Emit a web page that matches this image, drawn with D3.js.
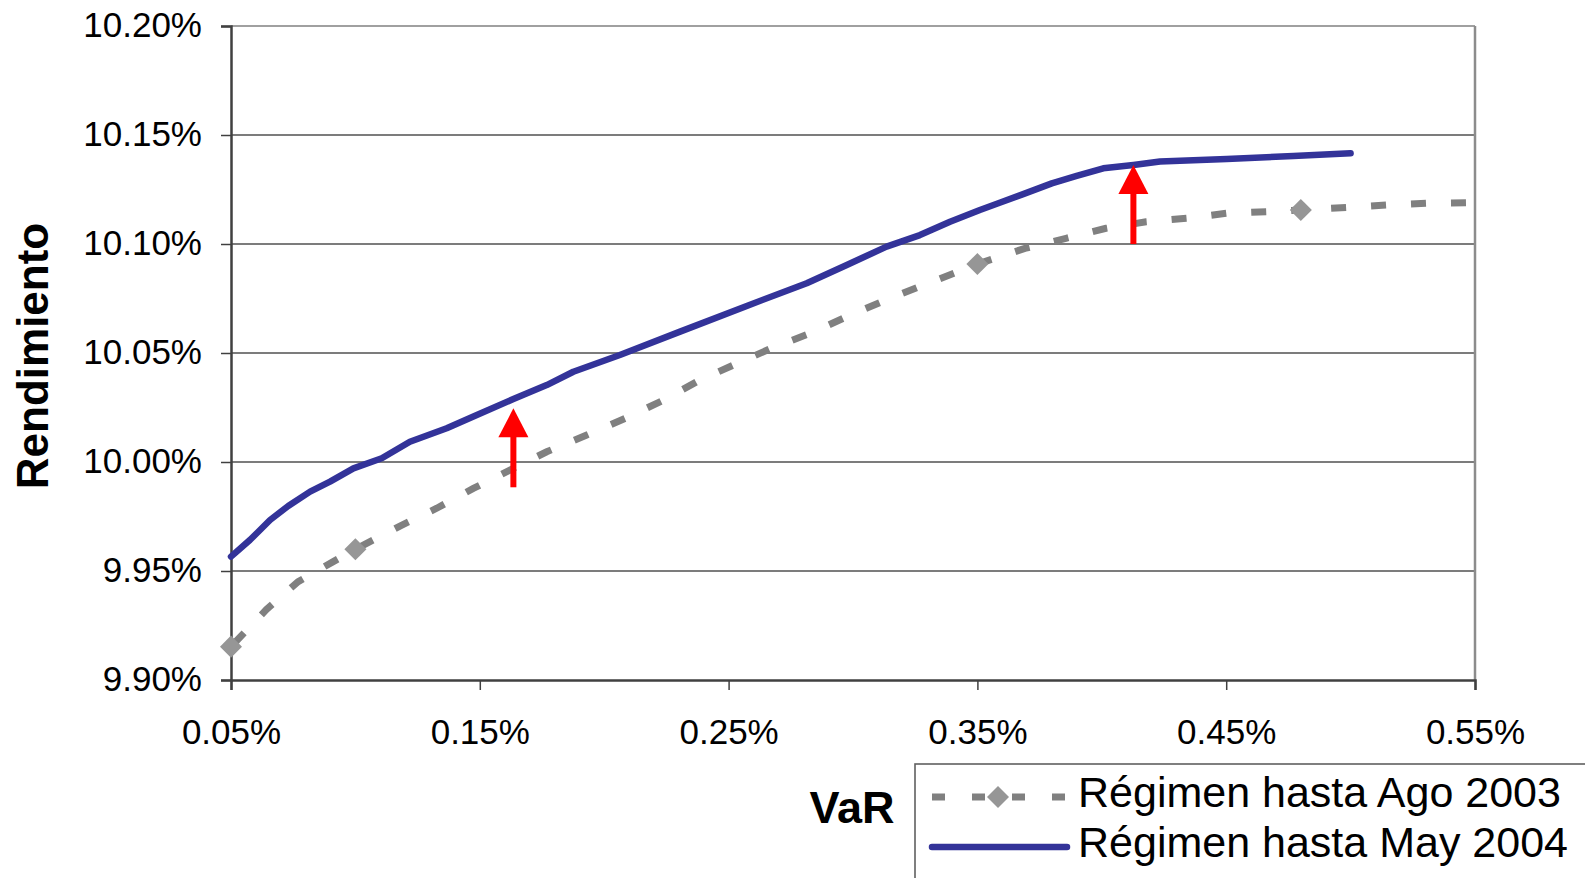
<!DOCTYPE html>
<html>
<head>
<meta charset="utf-8">
<script src="https://cdn.jsdelivr.net/npm/d3@7"></script>
<style>
	body { margin: 0; background: #fff; }
	text { font-family: "Liberation Sans", Arial, sans-serif; fill: #000; }
</style>
</head>
<body>
<div id="chart"></div>
<script>

//=================== DATA ====================================

// Regimen hasta Ago 2003 (dashed grey)
var varAgo2003  = [0.05, 0.0643, 0.077, 0.0911, 0.10, 0.1179, 0.1327, 0.1474, 0.1621, 0.1769, 0.193,
	0.2084, 0.2231, 0.2378, 0.2526, 0.2676, 0.2834, 0.2981, 0.3142, 0.3296, 0.35, 0.3691, 0.3856,
	0.4017, 0.4178, 0.4341, 0.4502, 0.4663, 0.48, 0.4991, 0.5149, 0.531, 0.55];
var rendAgo2003 = [9.9153, 9.9324, 9.9451, 9.9543, 9.96, 9.9706, 9.9788, 9.9879, 9.9963, 10.0047, 10.0124,
	10.02, 10.028, 10.0372, 10.0448, 10.0524, 10.0593, 10.067, 10.0748, 10.0817, 10.0908, 10.098, 10.1026,
	10.1072, 10.1102, 10.1118, 10.1141, 10.1148, 10.1156, 10.1168, 10.1179, 10.1187, 10.119];

// only some points of the grey series carry a diamond marker
var markerVar  = [0.05, 0.10, 0.35, 0.48];
var markerRend = [9.9153, 9.96, 10.0908, 10.1156];

// Regimen hasta May 2004 (solid blue)
var varMay2004  = [0.05, 0.0576, 0.0657, 0.073, 0.0818, 0.0898, 0.0992, 0.1106, 0.1219, 0.1367, 0.1488,
	0.1635, 0.1769, 0.1876, 0.2063, 0.2305, 0.2573, 0.2814, 0.2975, 0.3135, 0.3269, 0.339, 0.351,
	0.3584, 0.3684, 0.3799, 0.3899, 0.4006, 0.4127, 0.4234, 0.4502, 0.477, 0.50];
var rendMay2004 = [9.9566, 9.9642, 9.9734, 9.9798, 9.9864, 9.991, 9.9971, 10.0017, 10.0093, 10.0155, 10.0216,
	10.0289, 10.0353, 10.0414, 10.0491, 10.0598, 10.0716, 10.082, 10.0904, 10.0988, 10.1041, 10.1102, 10.1156,
	10.1187, 10.1229, 10.1278, 10.1312, 10.1347, 10.1362, 10.1378, 10.139, 10.1404, 10.1416];

// red arrows (shift between the two frontiers)
var arrowVar  = [0.1635, 0.4127];
var arrowFrom = [9.9884, 10.10];
var arrowTo   = [10.0246, 10.1362];

var xTicks = [0.05, 0.15, 0.25, 0.35, 0.45, 0.55];
var yTicks = [9.90, 9.95, 10.00, 10.05, 10.10, 10.15, 10.20];

var seriesNames = ["Régimen hasta Ago 2003", "Régimen hasta May 2004"];
var xTitle = "VaR";
var yTitle = "Rendimiento";


//=================== SETUP ====================================

var width = 1585, height = 878;
var plot = {left: 231, right: 1475, top: 26, bottom: 680};

var svg = d3.select("#chart").append("svg")
	.attr("width", width)
	.attr("height", height);

var x = d3.scaleLinear().domain([0.05, 0.55]).range([plot.left, plot.right]);
var y = d3.scaleLinear().domain([9.90, 10.20]).range([plot.bottom, plot.top]);

var pct = function(d) { return d.toFixed(2) + "%"; };

//gridlines
svg.append("g")
	.selectAll("line")
	.data(yTicks.slice(1))
	.enter().append("line")
	.attr("x1", plot.left).attr("x2", plot.right)
	.attr("y1", function(d) { return y(d); })
	.attr("y2", function(d) { return y(d); })
	.attr("stroke", function(d, i) { return i == yTicks.length - 2 ? "#808080" : "#505050"; })
	.attr("stroke-width", 1.6);

//right border of plot area
svg.append("line")
	.attr("x1", plot.right).attr("x2", plot.right)
	.attr("y1", plot.top).attr("y2", plot.bottom)
	.attr("stroke", "#8c8c8c").attr("stroke-width", 2.5);

//y axis
var yAxis = d3.axisLeft(y).tickValues(yTicks).tickFormat(pct).tickSize(10).tickPadding(19);
var gy = svg.append("g")
	.attr("transform", "translate(" + plot.left + ",0)")
	.call(yAxis);
gy.select(".domain").attr("stroke", "#404040").attr("stroke-width", 2.5);
gy.selectAll(".tick line").attr("stroke", "#404040").attr("stroke-width", 1.5);
gy.selectAll(".tick text")
	.attr("font-size", 35)
	.attr("dy", "0.3em")
	.style("font-family", "'Liberation Sans', Arial, sans-serif");

//x axis
var xAxis = d3.axisBottom(x).tickValues(xTicks).tickFormat(pct).tickSize(10).tickPadding(0);
var gx = svg.append("g")
	.attr("transform", "translate(0," + plot.bottom + ")")
	.call(xAxis);
gx.select(".domain").attr("stroke", "#404040").attr("stroke-width", 2.5);
gx.selectAll(".tick line").attr("stroke", "#404040").attr("stroke-width", 1.5);
gx.selectAll(".tick text")
	.attr("font-size", 35)
	.attr("y", 64)
	.attr("dy", 0)
	.style("font-family", "'Liberation Sans', Arial, sans-serif");

//axis titles
svg.append("text")
	.attr("transform", "translate(48,356) rotate(-90)")
	.attr("text-anchor", "middle")
	.attr("font-size", 44)
	.attr("font-weight", "bold")
	.text(yTitle);

svg.append("text")
	.attr("x", 852)
	.attr("y", 823)
	.attr("text-anchor", "middle")
	.attr("font-size", 45)
	.attr("font-weight", "bold")
	.text(xTitle);


//=================== SERIES ====================================

var ago = d3.zip(varAgo2003, rendAgo2003);
var may = d3.zip(varMay2004, rendMay2004);
var line = d3.line()
	.x(function(d) { return x(d[0]); })
	.y(function(d) { return y(d[1]); });

svg.append("path")
	.datum(ago)
	.attr("d", line)
	.attr("fill", "none")
	.attr("stroke", "#808080")
	.attr("stroke-width", 7)
	.attr("stroke-dasharray", "15,25")
	.attr("stroke-dashoffset", -4);

var diamond = d3.symbol().type(d3.symbolDiamond2).size(310);

svg.append("g")
	.selectAll("path")
	.data(d3.zip(markerVar, markerRend))
	.enter().append("path")
	.attr("d", diamond)
	.attr("transform", function(d) { return "translate(" + x(d[0]) + "," + y(d[1]) + ")"; })
	.attr("fill", "#969696");

svg.append("path")
	.datum(may)
	.attr("d", line)
	.attr("fill", "none")
	.attr("stroke", "#333399")
	.attr("stroke-width", 6.5)
	.attr("stroke-linejoin", "round")
	.attr("stroke-linecap", "round");

//red arrows
var headLen = 29, headW = 15;
var arrows = svg.append("g")
	.selectAll("g")
	.data(d3.zip(arrowVar, arrowFrom, arrowTo))
	.enter().append("g");

arrows.append("line")
	.attr("x1", function(d) { return x(d[0]); })
	.attr("x2", function(d) { return x(d[0]); })
	.attr("y1", function(d) { return y(d[1]); })
	.attr("y2", function(d) { return y(d[2]) + headLen - 1; })
	.attr("stroke", "#ff0000")
	.attr("stroke-width", 6);

arrows.append("path")
	.attr("d", function(d) {
		var cx = x(d[0]), ty = y(d[2]);
		return "M" + cx + "," + ty + "L" + (cx + headW) + "," + (ty + headLen)
			+ "L" + (cx - headW) + "," + (ty + headLen) + "Z";
	})
	.attr("fill", "#ff0000");


//=================== LEGEND ====================================

var legend = svg.append("g").attr("transform", "translate(915,764)");

legend.append("rect")
	.attr("x", 0).attr("y", 0)
	.attr("width", 700).attr("height", 140)
	.attr("fill", "#fff")
	.attr("stroke", "#606060")
	.attr("stroke-width", 1.6);

legend.append("line")
	.attr("x1", 17).attr("x2", 152)
	.attr("y1", 33).attr("y2", 33)
	.attr("stroke", "#808080")
	.attr("stroke-width", 7)
	.attr("stroke-dasharray", "13,27");

legend.append("path")
	.attr("d", diamond)
	.attr("transform", "translate(83,33)")
	.attr("fill", "#969696");

legend.append("line")
	.attr("x1", 17).attr("x2", 152)
	.attr("y1", 83).attr("y2", 83)
	.attr("stroke", "#333399")
	.attr("stroke-width", 6.5)
	.attr("stroke-linecap", "round");

legend.selectAll("text.legendLabel")
	.data(seriesNames)
	.enter().append("text")
	.classed("legendLabel", true)
	.attr("x", 163)
	.attr("y", function(d, i) { return 43 + i * 50; })
	.attr("font-size", 43)
	.text(function(d) { return d; });

</script>
</body>
</html>
